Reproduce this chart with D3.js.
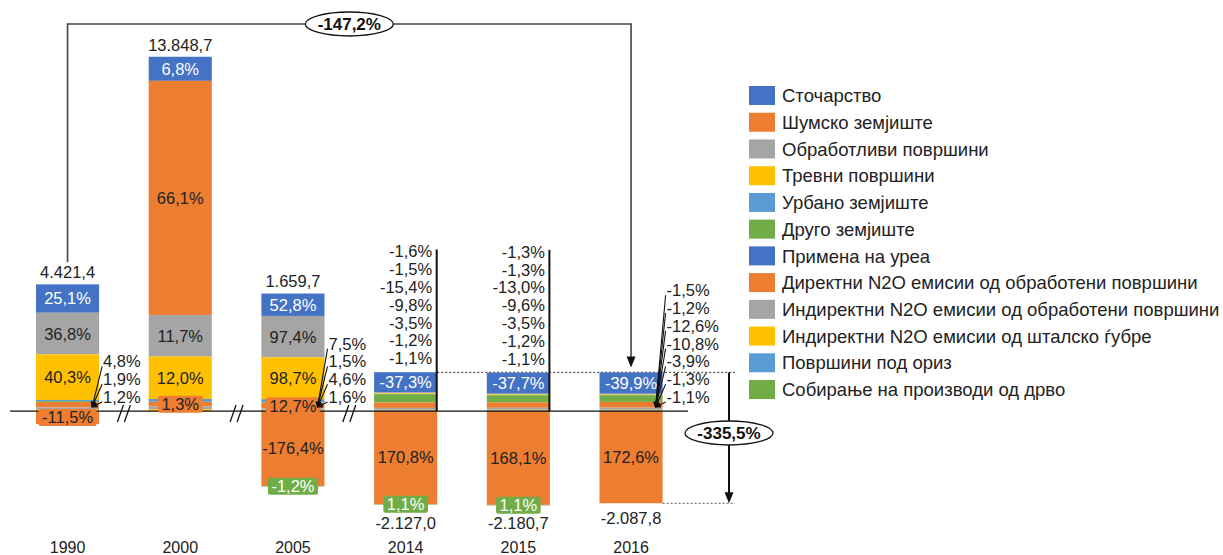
<!DOCTYPE html>
<html>
<head>
<meta charset="utf-8">
<script src="https://cdn.jsdelivr.net/npm/d3@7"></script>
<style>
  html, body { margin: 0; padding: 0; background: #fff; }
  svg { display: block; font-family: "Liberation Sans", Arial, sans-serif; }
</style>
</head>
<body>
<svg id="chart" width="1223" height="555"></svg>
<script>
// ---------------- DATA ----------------
const years = ["1990", "2000", "2005", "2014", "2015", "2016"];
const totals = [4421.4, 13848.7, 1659.7, -2127.0, -2180.7, -2087.8];

const seriesNames = [
  "Сточарство",
  "Шумско земјиште",
  "Обработливи површини",
  "Тревни површини",
  "Урбано земјиште",
  "Друго земјиште",
  "Примена на уреа",
  "Директни N2O емисии од обработени површини",
  "Индиректни N2O емисии од обработени површини",
  "Индиректни N2O емисии од шталско ѓубре",
  "Површини под ориз",
  "Собирање на производи од дрво"
];

// shares of the net total (%), per year
const livestock   = [25.1, 6.8, 52.8, -37.3, -37.7, -39.9];
const forest      = [-11.5, 66.1, -176.4, 170.8, 168.1, 172.6];
const cropland    = [36.8, 11.7, 97.4, -1.6, -1.3, -1.5];
const grassland   = [40.3, 12.0, 98.7, -1.5, -1.3, -1.2];
const settlements = [1.0, 0.8, 7.5, 0, 0, 0];
const otherLand   = [0.9, 0, 1.5, -15.4, -13.0, -12.6];
const urea        = [0, 0, 0, 0, 0, 0];
const directN2O   = [4.8, 1.3, 12.7, -9.8, -9.6, -10.8];
const indirectN2O = [1.9, 0.8, 4.6, -3.5, -3.5, -3.9];
const manureN2O   = [1.2, 0.5, 1.6, -1.2, -1.2, -1.3];
const rice        = [0, 0, 0, -1.1, -1.1, -1.1];
const hwp         = [0, 0, -1.2, 1.1, 1.1, 0];

const overallChange = -147.2;   // 1990 -> 2016
const sinkChange = -335.5;      // 2016 removals vs emissions

const seriesValues = [livestock, forest, cropland, grassland, settlements, otherLand,
  urea, directN2O, indirectN2O, manureN2O, rice, hwp];
const colors = ["#4472C4", "#ED7D31", "#A5A5A5", "#FFC000", "#5B9BD5", "#70AD47",
  "#4472C4", "#ED7D31", "#A5A5A5", "#FFC000", "#5B9BD5", "#70AD47"];

// label assignment per year (series indices)
const plainLabels = [[0, 2, 3], [0, 1, 2, 3], [0, 2, 3, 1], [0, 1], [0, 1], [0, 1]];
const boxLabels   = [[1], [7], [7, 11], [11], [11], []];
const outLabels   = [[7, 8, 9], [], [4, 5, 8, 9], [2, 3, 5, 7, 8, 9, 10], [2, 3, 5, 7, 8, 9, 10], [2, 3, 5, 7, 8, 9, 10]];

// ---------------- FORMAT ----------------
const loc = d3.formatLocale({decimal: ",", thousands: ".", grouping: [3], currency: ["", ""], minus: "-"});
const fmtTotal = loc.format(",.1f");
const fmt1 = loc.format(".1f");
const fmtPct = v => fmt1(v) + "%";

// ---------------- SCALES ----------------
const svg = d3.select("#chart");
const x = d3.scaleBand().domain(years).range([11.2, 687.4]).paddingInner(0.44).paddingOuter(0.22);
const y = d3.scaleLinear().domain([-2500, 15000]).range([475, 27.3]);
const bw = x.bandwidth();
const y0 = y(0);

// stacking
const stacks = years.map((yr, j) => {
  const segs = [];
  let pos = 0, neg = 0;
  for (let i = seriesValues.length - 1; i >= 0; i--) {
    const v = seriesValues[i][j] / 100 * totals[j];
    if (v > 0) { segs[i] = {lo: pos, hi: pos + v}; pos += v; }
  }
  for (let i = 0; i < seriesValues.length; i++) {
    const v = seriesValues[i][j] / 100 * totals[j];
    if (v < 0) { segs[i] = {lo: neg + v, hi: neg}; neg += v; }
  }
  return {segs, pos, neg};
});

// markers
const defs = svg.append("defs");
defs.append("marker").attr("id", "arr").attr("viewBox", "0 0 8 8").attr("refX", 7).attr("refY", 4)
  .attr("markerWidth", 6).attr("markerHeight", 6).attr("orient", "auto").attr("markerUnits", "userSpaceOnUse")
  .append("path").attr("d", "M0,0 L8,4 L0,8 Z").attr("fill", "#111");

// dotted reference lines (2016 top / bottom)
const i16 = 5;
const top16 = y(stacks[i16].pos), bot16 = y(stacks[i16].neg);
svg.append("line").attr("x1", x("2014") + bw).attr("x2", 735).attr("y1", top16).attr("y2", top16)
  .attr("stroke", "#555").attr("stroke-width", 1.2).attr("stroke-dasharray", "2,2");
svg.append("line").attr("x1", x("2016") + bw).attr("x2", 735).attr("y1", bot16).attr("y2", bot16)
  .attr("stroke", "#555").attr("stroke-width", 1.2).attr("stroke-dasharray", "2,2");

// bars
years.forEach((yr, j) => {
  const g = svg.append("g");
  stacks[j].segs.forEach((s, i) => {
    if (!s) return;
    g.append("rect").attr("x", x(yr)).attr("width", bw)
      .attr("y", y(s.hi)).attr("height", Math.max(0.5, y(s.lo) - y(s.hi)))
      .attr("fill", colors[i]);
  });
});

// zero line
svg.append("line").attr("x1", 10).attr("x2", 688).attr("y1", y0).attr("y2", y0)
  .attr("stroke", "#111").attr("stroke-width", 1.3);

// axis break marks
[["1990", "2000"], ["2000", "2005"], ["2005", "2014"]].forEach(([a, b]) => {
  const cx = (x(a) + bw + x(b)) / 2;
  [-3.5, 3.5].forEach(d => {
    svg.append("line").attr("x1", cx + d - 3).attr("y1", y0 + 11).attr("x2", cx + d + 3).attr("y2", y0 - 6)
      .attr("stroke", "#111").attr("stroke-width", 1.3);
  });
});

// labels
const LBL = 16.5;
years.forEach((yr, j) => {
  const st = stacks[j];
  const segMid = i => y((st.segs[i].lo + st.segs[i].hi) / 2);
  plainLabels[j].forEach(i => {
    svg.append("text").attr("x", x(yr) + bw / 2).attr("y", segMid(i)).attr("dy", "0.36em")
      .attr("text-anchor", "middle").attr("font-size", LBL)
      .attr("fill", (i === 0 || i === 6) ? "#fff" : "#222")
      .text(fmtPct(seriesValues[i][j]));
  });
  boxLabels[j].forEach(i => {
    const cy = segMid(i);
    const gb = svg.append("g");
    const r = gb.append("rect").attr("fill", colors[i]).attr("rx", 2);
    const t = gb.append("text").attr("x", x(yr) + bw / 2).attr("y", cy).attr("dy", "0.36em")
      .attr("text-anchor", "middle").attr("font-size", LBL)
      .attr("fill", colors[i] === "#70AD47" ? "#fff" : "#222")
      .text(fmtPct(seriesValues[i][j]));
    const w = t.node().getComputedTextLength() + 7;
    r.attr("x", x(yr) + bw / 2 - w / 2).attr("width", w).attr("y", cy - 8.5).attr("height", 17);
  });
  const list = outLabels[j];
  const n = list.length;
  if (!n) return;
  const step = 17.8;
  if (j === 3 || j === 4) {
    const last = y(st.pos) - 14;
    const lx = x(yr) + bw - 5;
    list.forEach((i, k) => {
      svg.append("text").attr("x", lx).attr("y", last - (n - 1 - k) * step).attr("dy", "0.36em")
        .attr("text-anchor", "end").attr("font-size", LBL).attr("fill", "#222")
        .text(fmtPct(seriesValues[i][j]));
    });
    svg.append("line").attr("x1", x(yr) + bw - 0.5).attr("x2", x(yr) + bw - 0.5)
      .attr("y1", last - (n - 1) * step - 2).attr("y2", y0)
      .attr("stroke", "#111").attr("stroke-width", 2);
  } else {
    const last = y0 - 14;
    const lx = x(yr) + bw + 4;
    const tx = x(yr) + bw - 7, ty = y0 - 4;
    list.forEach((i, k) => {
      const ly = last - (n - 1 - k) * step;
      svg.append("line").attr("x1", lx - 1).attr("y1", ly + 5).attr("x2", tx).attr("y2", ty)
        .attr("stroke", "#111").attr("stroke-width", 1.1).attr("marker-end", "url(#arr)");
      svg.append("text").attr("x", lx).attr("y", ly).attr("dy", "0.36em")
        .attr("text-anchor", "start").attr("font-size", LBL).attr("fill", "#222")
        .text(fmtPct(seriesValues[i][j]));
    });
  }
});

// totals
years.forEach((yr, j) => {
  const st = stacks[j];
  const cy = totals[j] >= 0 ? y(st.pos) - 12 : y(st.neg) + 15 + (seriesValues[11][j] !== 0 ? 3 : 0);
  svg.append("text").attr("x", x(yr) + bw / 2).attr("y", cy).attr("dy", "0.36em")
    .attr("text-anchor", "middle").attr("font-size", LBL).attr("fill", "#222")
    .text(fmtTotal(totals[j]));
});

// year axis labels
years.forEach(yr => {
  svg.append("text").attr("x", x(yr) + bw / 2).attr("y", 547).attr("dy", "0.36em")
    .attr("text-anchor", "middle").attr("font-size", 16).attr("fill", "#222").text(yr);
});

// top bracket 1990 -> 2016
const xa = x("1990") + bw / 2, xb = x("2016") + bw / 2, yt = 24;
const tipY = top16 - 5;
svg.append("path")
  .attr("d", `M${xa},${y(stacks[0].pos) - 22} L${xa},${yt} L${xb},${yt} L${xb},${tipY - 10}`)
  .attr("fill", "none").attr("stroke", "#444").attr("stroke-width", 1.6);
svg.append("path").attr("d", `M${xb - 4.5},${tipY - 11} L${xb + 4.5},${tipY - 11} L${xb},${tipY} Z`).attr("fill", "#111");
const ex = (xa + xb) / 2;
svg.append("ellipse").attr("cx", ex).attr("cy", yt).attr("rx", 44).attr("ry", 12)
  .attr("fill", "#fff").attr("stroke", "#111").attr("stroke-width", 1.3);
svg.append("text").attr("x", ex).attr("y", yt).attr("dy", "0.36em").attr("text-anchor", "middle")
  .attr("font-family", "'Liberation Sans Narrow', 'Arial Narrow', 'Liberation Sans', sans-serif")
  .attr("font-weight", "bold").attr("font-size", 17).attr("fill", "#111")
  .text(fmtPct(overallChange));

// right arrow (sink vs emissions, 2016)
const ax = 729;
svg.append("line").attr("x1", ax).attr("x2", ax).attr("y1", top16).attr("y2", bot16 - 10)
  .attr("stroke", "#111").attr("stroke-width", 2);
svg.append("path").attr("d", `M${ax - 4.5},${bot16 - 11} L${ax + 4.5},${bot16 - 11} L${ax},${bot16} Z`).attr("fill", "#111");
const ey = 433;
svg.append("ellipse").attr("cx", ax).attr("cy", ey).attr("rx", 44).attr("ry", 12)
  .attr("fill", "#fff").attr("stroke", "#111").attr("stroke-width", 1.3);
svg.append("text").attr("x", ax).attr("y", ey).attr("dy", "0.36em").attr("text-anchor", "middle")
  .attr("font-family", "'Liberation Sans Narrow', 'Arial Narrow', 'Liberation Sans', sans-serif")
  .attr("font-weight", "bold").attr("font-size", 17).attr("fill", "#111")
  .text(fmtPct(sinkChange));

// legend
const lg = svg.append("g");
seriesNames.forEach((name, i) => {
  const cy = 95.5 + i * 26.73;
  lg.append("rect").attr("x", 749).attr("y", cy - 9.5).attr("width", 26).attr("height", 19).attr("fill", colors[i]);
  lg.append("text").attr("x", 782).attr("y", cy).attr("dy", "0.36em").attr("font-size", 18.5)
    .attr("fill", "#222").text(name);
});
</script>
</body>
</html>
